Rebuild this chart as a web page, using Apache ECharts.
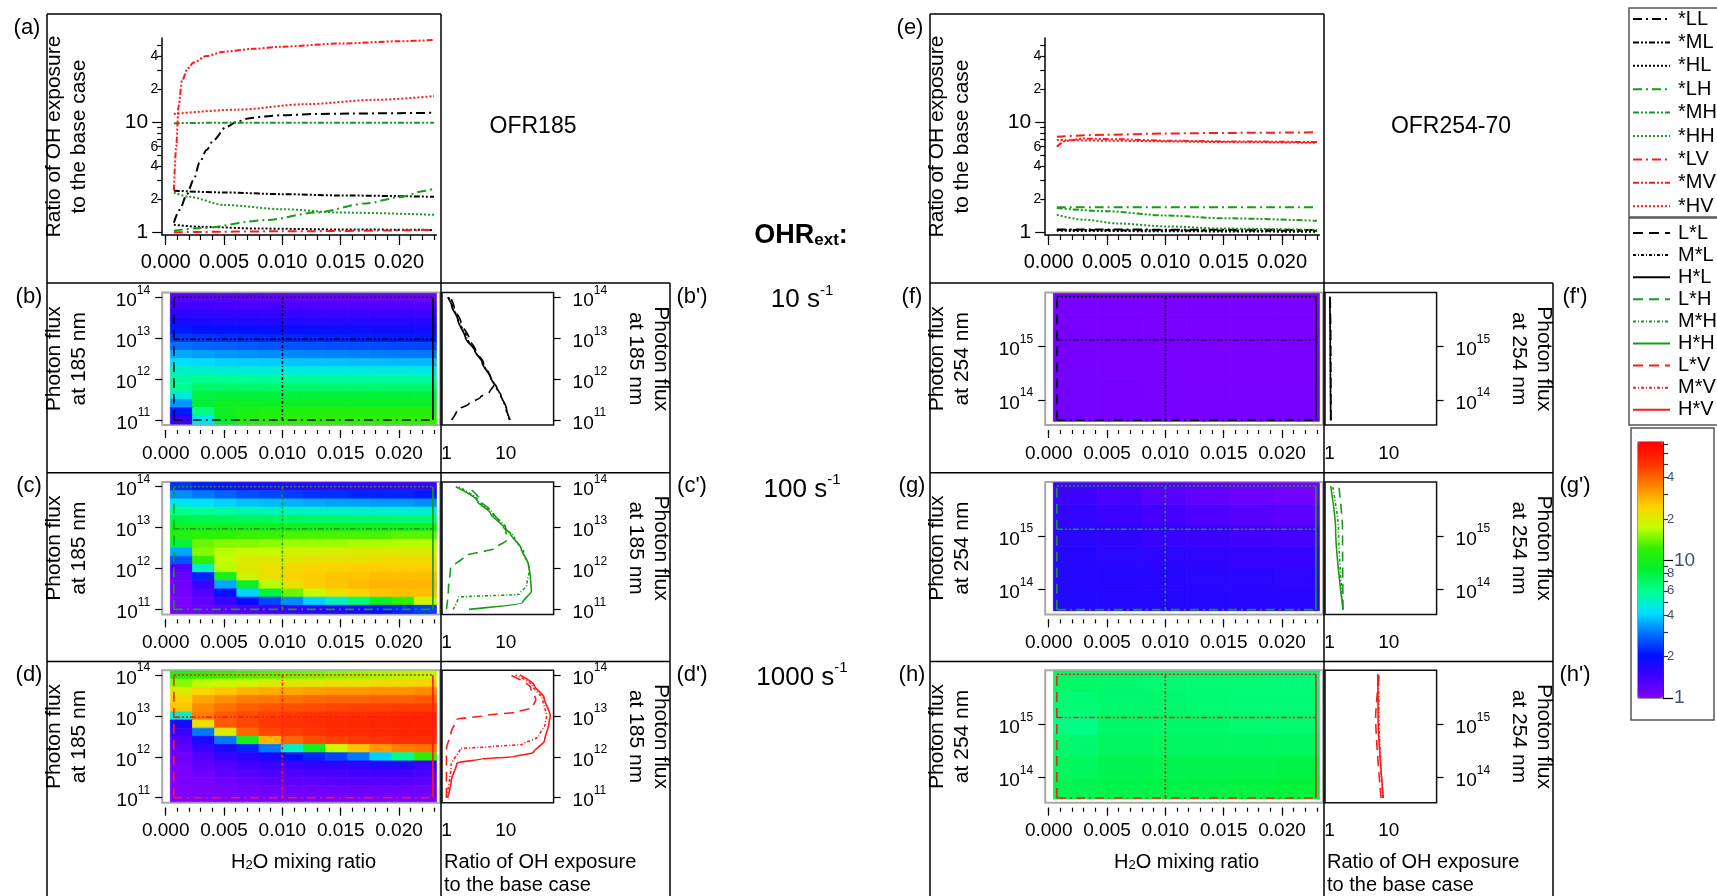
<!DOCTYPE html>
<html>
<head>
<meta charset="utf-8">
<title>Ratio of OH exposure to the base case</title>
<script src="https://cdn.jsdelivr.net/npm/echarts@6/dist/echarts.min.js"></script>
<style>
  html, body { margin: 0; padding: 0; background: #fff; }
  #chart { width: 1717px; height: 896px; }
</style>
</head>
<body>
<div id="chart"></div>
<script>
// ---------------- data ----------------
// slice positions: H2O mixing ratio (L, M, H) and log10 photon flux (L, M, H)
const h2oLevels = [0.0007, 0.0100, 0.0229];
const fluxLevels185 = [11.0, 12.97, 14.0];
const fluxLevels254 = [13.62, 15.13, 15.94];

// heatmap cell edges (H2O mixing ratio, log10 photon flux)
const h2oEdges185 = [0.0004, 0.0023, 0.0042, 0.0061, 0.0080, 0.0099, 0.0118, 0.0137, 0.0156, 0.0175, 0.0194, 0.0213, 0.0232];
const fluxEdges185 = [10.9, 11.1, 11.3, 11.5, 11.7, 11.9, 12.1, 12.3, 12.5, 12.7, 12.9, 13.1, 13.3, 13.5, 13.7, 13.9, 14.1];
const h2oEdges254 = [0.0004, 0.0042, 0.0080, 0.0118, 0.0156, 0.0194, 0.0232];
const fluxEdges254 = [13.6, 14.0, 14.4, 14.8, 15.2, 15.6, 16.0];

// ratio of OH exposure, rows from highest flux (top) to lowest, columns low -> high H2O
const ratio185_10 = [
  [1.25, 1.22, 1.2, 1.18, 1.17, 1.16, 1.15, 1.14, 1.13, 1.12, 1.11, 1.1],
  [1.42, 1.4, 1.38, 1.36, 1.35, 1.34, 1.33, 1.32, 1.31, 1.3, 1.3, 1.29],
  [1.6, 1.58, 1.55, 1.53, 1.52, 1.51, 1.5, 1.49, 1.48, 1.47, 1.47, 1.46],
  [1.82, 1.78, 1.75, 1.73, 1.71, 1.7, 1.69, 1.68, 1.67, 1.66, 1.66, 1.65],
  [2.1, 2.05, 2.0, 1.98, 1.95, 1.93, 1.92, 1.9, 1.9, 1.88, 1.88, 1.87],
  [2.4, 2.35, 2.3, 2.27, 2.24, 2.22, 2.2, 2.18, 2.16, 2.14, 2.12, 2.1],
  [2.9, 2.8, 2.75, 2.7, 2.65, 2.62, 2.6, 2.57, 2.55, 2.53, 2.51, 2.5],
  [3.5, 3.4, 3.3, 3.25, 3.2, 3.15, 3.12, 3.1, 3.07, 3.04, 3.02, 3.0],
  [4.2, 4.1, 4.0, 3.95, 3.9, 3.85, 3.82, 3.8, 3.77, 3.74, 3.72, 3.7],
  [5.0, 4.9, 4.8, 4.75, 4.7, 4.65, 4.62, 4.6, 4.57, 4.54, 4.52, 4.5],
  [5.6, 5.9, 5.8, 5.75, 5.7, 5.68, 5.65, 5.63, 5.62, 5.61, 5.6, 5.6],
  [5.9, 7.0, 6.9, 6.85, 6.8, 6.8, 6.8, 6.8, 6.8, 6.8, 6.8, 6.8],
  [4.6, 8.0, 8.2, 8.15, 8.1, 8.1, 8.1, 8.1, 8.1, 8.1, 8.1, 8.1],
  [3.3, 8.3, 9.4, 9.4, 9.4, 9.4, 9.4, 9.4, 9.4, 9.4, 9.4, 9.4],
  [2.1, 6.2, 9.6, 10.4, 10.6, 10.7, 10.8, 10.9, 11.0, 11.0, 11.1, 11.1],
  [1.5, 4.4, 8.6, 10.6, 11.3, 11.6, 11.8, 11.9, 12.0, 12.1, 12.2, 12.2]
];
const ratio185_100 = [
  [2.3, 2.1, 1.9, 1.8, 1.7, 1.6, 1.6, 1.55, 1.5, 1.5, 1.45, 1.45],
  [3.2, 3.0, 2.8, 2.6, 2.5, 2.4, 2.3, 2.3, 2.2, 2.2, 2.2, 2.1],
  [4.4, 4.2, 4.0, 3.8, 3.7, 3.6, 3.5, 3.4, 3.4, 3.3, 3.3, 3.2],
  [6.0, 5.8, 5.6, 5.4, 5.2, 5.1, 5.0, 5.0, 4.9, 4.9, 4.8, 4.8],
  [7.8, 7.6, 7.4, 7.2, 7.1, 7.0, 6.9, 6.9, 6.8, 6.8, 6.7, 6.7],
  [9.9, 9.9, 9.9, 9.9, 9.9, 9.9, 9.9, 9.9, 9.9, 9.9, 9.9, 9.9],
  [11, 12, 12, 12.5, 12.5, 13, 13, 13, 13, 13, 13.5, 13.5],
  [8, 14, 15, 15, 15.5, 16, 16, 16, 16.5, 16.5, 17, 17],
  [3.5, 15, 17, 18, 18, 19, 19, 19.5, 20, 20, 20, 20],
  [2.6, 12, 18, 20, 21, 21, 22, 22, 22, 23, 23, 23],
  [1.3, 5, 17, 21, 22, 23, 24, 24, 25, 25, 25, 25],
  [1.15, 2.2, 10, 19, 22, 24, 25, 26, 26, 27, 27, 27],
  [1.1, 1.5, 3.5, 9, 17, 22, 25, 26, 27, 28, 28, 28],
  [1.05, 1.3, 2, 4, 8, 14, 18, 22, 24, 26, 27, 27],
  [1.03, 1.2, 1.5, 2, 2.5, 3.2, 4, 5, 6.5, 9, 12, 19],
  [1.02, 1.1, 1.2, 1.3, 1.4, 1.5, 1.6, 1.7, 1.8, 2.0, 2.2, 2.4]
];
const ratio185_1000 = [
  [11, 12, 12.5, 13, 13.5, 14, 14.5, 15, 15.5, 16, 16.5, 17],
  [15, 17, 18, 19, 20, 21, 21, 22, 22, 23, 23, 24],
  [20, 24, 26, 28, 29, 30, 31, 32, 32, 33, 33, 34],
  [24, 30, 33, 36, 37, 38, 39, 40, 40, 41, 41, 42],
  [26, 34, 38, 41, 43, 44, 45, 46, 47, 47, 48, 48],
  [5, 36, 42, 45, 47, 49, 50, 51, 52, 53, 54, 55],
  [1.8, 22, 42, 46, 49, 50, 52, 53, 54, 55, 56, 56],
  [1.5, 3, 20, 40, 46, 48, 50, 52, 53, 54, 55, 55],
  [1.3, 1.8, 3, 10, 28, 40, 45, 47, 49, 50, 51, 52],
  [1.2, 1.5, 1.8, 2.2, 3, 5, 10, 18, 26, 32, 36, 38],
  [1.1, 1.3, 1.5, 1.6, 1.8, 2, 2.2, 2.5, 3, 4, 6, 12],
  [1.05, 1.2, 1.3, 1.4, 1.5, 1.5, 1.6, 1.6, 1.6, 1.7, 1.7, 1.5],
  [1.03, 1.1, 1.2, 1.25, 1.3, 1.3, 1.35, 1.35, 1.4, 1.4, 1.4, 1.35],
  [1.02, 1.05, 1.1, 1.15, 1.2, 1.2, 1.2, 1.25, 1.25, 1.25, 1.25, 1.2],
  [1.0, 1.03, 1.05, 1.08, 1.1, 1.1, 1.1, 1.12, 1.12, 1.12, 1.12, 1.1],
  [1.0, 1.0, 1.02, 1.03, 1.04, 1.05, 1.05, 1.05, 1.05, 1.05, 1.05, 1.05]
];
const ratio254_10 = [
  [1.05, 1.03, 1.02, 1.02, 1.01, 1.01],
  [1.05, 1.04, 1.03, 1.02, 1.02, 1.02],
  [1.06, 1.05, 1.04, 1.03, 1.03, 1.03],
  [1.06, 1.05, 1.05, 1.04, 1.04, 1.04],
  [1.07, 1.06, 1.05, 1.05, 1.05, 1.05],
  [1.07, 1.06, 1.06, 1.06, 1.06, 1.06]
];
const ratio254_100 = [
  [1.45, 1.35, 1.25, 1.18, 1.12, 1.07],
  [1.55, 1.48, 1.4, 1.33, 1.27, 1.22],
  [1.62, 1.57, 1.52, 1.47, 1.42, 1.38],
  [1.66, 1.63, 1.6, 1.57, 1.54, 1.51],
  [1.68, 1.66, 1.64, 1.62, 1.6, 1.58],
  [1.69, 1.68, 1.67, 1.66, 1.65, 1.64]
];
const ratio254_1000 = [
  [6.9, 6.8, 6.7, 6.6, 6.6, 6.5],
  [6.6, 6.8, 6.8, 6.7, 6.6, 6.6],
  [6.2, 6.9, 6.9, 6.8, 6.7, 6.7],
  [6.8, 7.2, 7.2, 7.2, 7.2, 7.2],
  [7.2, 7.5, 7.6, 7.7, 7.7, 7.8],
  [7.5, 7.7, 7.8, 7.9, 8.0, 8.1]
];

// top panels: [H2O mixing ratio, ratio] at fixed flux (L/M/H) and OHRext (L/H/V)
const top185 = {
  '*LL': [[0.0007, 1.22], [0.0012, 1.6], [0.0018, 2.2], [0.0024, 3.0], [0.0029, 4.3], [0.0035, 5.6], [0.0041, 6.9], [0.0052, 9.1], [0.0062, 10.2], [0.0072, 10.9], [0.0085, 11.3], [0.010, 11.6], [0.013, 11.9], [0.016, 12.0], [0.020, 12.1], [0.023, 12.2]],
  '*ML': [[0.0007, 2.39], [0.005, 2.3], [0.010, 2.22], [0.015, 2.16], [0.023, 2.1]],
  '*HL': [[0.0007, 1.17], [0.003, 1.12], [0.008, 1.08], [0.015, 1.06], [0.023, 1.05]],
  '*LH': [[0.0007, 1.03], [0.0029, 1.09], [0.0086, 1.29], [0.0129, 1.51], [0.0172, 1.83], [0.0200, 2.08], [0.0223, 2.39], [0.023, 2.5]],
  '*MH': [[0.0007, 9.8], [0.005, 9.9], [0.023, 9.9]],
  '*HH': [[0.0007, 2.29], [0.002, 2.1], [0.005, 1.77], [0.010, 1.62], [0.015, 1.51], [0.023, 1.44]],
  '*LV': [[0.0007, 1.0], [0.010, 1.02], [0.023, 1.05]],
  '*MV': [[0.0007, 2.4], [0.0009, 6], [0.0011, 14], [0.0014, 24], [0.0019, 31], [0.0024, 35], [0.0035, 40], [0.005, 43.8], [0.0075, 46.5], [0.010, 48.7], [0.015, 52], [0.020, 54.5], [0.023, 56]],
  '*HV': [[0.0007, 11.9], [0.006, 13], [0.012, 14.6], [0.018, 16], [0.023, 17.3]]
};
const top254 = {
  '*LL': [[0.0007, 1.06], [0.023, 1.05]],
  '*ML': [[0.0007, 1.05], [0.023, 1.03]],
  '*HL': [[0.0007, 1.03], [0.023, 1.01]],
  '*LH': [[0.0007, 1.69], [0.023, 1.69]],
  '*MH': [[0.0007, 1.66], [0.005, 1.55], [0.010, 1.42], [0.015, 1.34], [0.023, 1.27]],
  '*HH': [[0.0007, 1.44], [0.003, 1.3], [0.006, 1.2], [0.010, 1.13], [0.015, 1.08], [0.023, 1.05]],
  '*LV': [[0.0007, 7.4], [0.005, 7.7], [0.010, 7.9], [0.015, 8.0], [0.023, 8.1]],
  '*MV': [[0.0007, 6.0], [0.0015, 6.8], [0.003, 7.1], [0.006, 7.0], [0.010, 6.8], [0.015, 6.7], [0.023, 6.6]],
  '*HV': [[0.0007, 6.9], [0.005, 6.8], [0.010, 6.7], [0.015, 6.6], [0.023, 6.5]]
};

// side panels: [ratio, log10 photon flux] at fixed H2O (L/M/H)
const side185_10 = {
  'L*L': [[1.22, 11.0], [1.5, 11.24], [2.4, 11.4], [3.7, 11.55], [5.4, 11.7], [6.3, 11.85], [5.5, 12.05], [4.2, 12.4], [3.1, 12.7], [2.4, 13.0], [1.75, 13.4], [1.35, 13.75], [1.17, 14.0]],
  'M*L': [[11.6, 11.0], [10.0, 11.3], [8.2, 11.6], [6.9, 11.8], [5.7, 12.0], [4.1, 12.4], [3.0, 12.7], [2.22, 13.0], [1.6, 13.45], [1.25, 13.8], [1.08, 14.0]],
  'H*L': [[11.8, 11.0], [10.2, 11.3], [8.3, 11.6], [7.0, 11.8], [5.7, 12.0], [4.0, 12.4], [3.0, 12.7], [2.1, 13.0], [1.55, 13.45], [1.22, 13.8], [1.05, 14.0]]
};
const side185_100 = {
  'L*H': [[1.0, 11.0], [1.08, 11.5], [1.17, 12.0], [2.0, 12.3], [6.7, 12.5], [10.4, 12.7], [9.9, 13.0], [6.2, 13.35], [3.8, 13.65], [2.3, 14.0]],
  'M*H': [[1.3, 11.0], [1.6, 11.3], [17, 11.37], [22.6, 11.6], [25, 12.0], [20, 12.4], [14, 12.75], [9.9, 13.0], [6.0, 13.35], [3.5, 13.65], [1.6, 14.0]],
  'H*H': [[2.4, 11.0], [19, 11.16], [27, 11.45], [26, 11.8], [24, 12.1], [18, 12.5], [12, 12.85], [9.2, 13.0], [5.5, 13.35], [3.3, 13.65], [1.44, 14.0]]
};
const side185_1000 = {
  'L*V': [[1.0, 11.0], [1.0, 12.2], [1.2, 12.6], [1.5, 12.92], [4, 13.0], [16, 13.1], [28, 13.2], [32, 13.4], [26, 13.7], [11.9, 14.0]],
  'M*V': [[1.0, 11.0], [1.2, 11.8], [1.7, 12.2], [5.6, 12.25], [19, 12.3], [36, 12.5], [46, 12.8], [48.7, 13.0], [42, 13.4], [28, 13.75], [14.6, 14.0]],
  'H*V': [[1.05, 11.0], [1.2, 11.4], [1.5, 11.85], [4, 11.95], [13.4, 12.0], [29, 12.1], [45, 12.4], [53, 12.8], [56, 13.0], [44, 13.45], [30, 13.75], [17.3, 14.0]]
};
const side254_10 = {
  'L*L': [[1.06, 13.62], [1.05, 15.13], [1.03, 15.94]],
  'M*L': [[1.05, 13.62], [1.04, 15.13], [1.02, 15.94]],
  'H*L': [[1.05, 13.62], [1.03, 15.13], [1.01, 15.94]]
};
const side254_100 = {
  'L*H': [[1.69, 13.62], [1.66, 15.13], [1.44, 15.94]],
  'M*H': [[1.69, 13.62], [1.42, 15.13], [1.13, 15.94]],
  'H*H': [[1.69, 13.62], [1.27, 15.13], [1.05, 15.94]]
};
const side254_1000 = {
  'L*V': [[7.4, 13.62], [6.0, 15.13], [6.9, 15.94]],
  'M*V': [[7.9, 13.62], [6.8, 15.13], [6.7, 15.94]],
  'H*V': [[8.1, 13.62], [6.6, 15.13], [6.5, 15.94]]
};

// ---------------- styles ----------------
const FONT = "'Liberation Sans', Arial, sans-serif";
const ohrColor = { L: '#000000', H: '#1a9a1a', V: '#ff1a1a' };
const fluxDash = { L: [9, 4, 2, 4], M: [6, 2, 2, 2, 2, 2], H: [2, 2] };
const h2oDash = { L: [10, 6], M: [3, 2, 1, 2], H: 'solid' };
const cmap = ['#8000ff', '#4000ff', '#0010ff', '#0070ff', '#00e0ff', '#00ff90', '#00f030',
  '#30f000', '#c0ff00', '#ffd000', '#ff8000', '#ff3000', '#ff0000'];
const LV = ['L', 'M', 'H'];
const OHR = ['L', 'H', 'V'];

const minorX = [];
for (let i = 0; i <= 23; i++) minorX.push(+(i * 0.001).toFixed(3));
const majorX = [0, 0.005, 0.010, 0.015, 0.020];
const lg = v => Math.log10(v);
const minorLog = [2, 3, 4, 5, 6, 7, 8, 9, 20, 30, 40, 50, 60, 70].map(lg);

const grids = [], xAxes = [], yAxes = [], series = [], graphics = [], heatIdx = [];

function tickAxis(gridIndex, min, max, values, len, position, offset) {
  return {
    type: 'value', gridIndex, min, max, position, offset: offset || 0,
    axisLine: { show: false, onZero: false }, axisLabel: { show: false }, splitLine: { show: false },
    axisTick: { show: true, customValues: values, length: len, lineStyle: { color: '#000', width: 1.2 } }
  };
}

function cells(xEdges, yEdges, rows) {
  const out = [];
  const n = rows.length;
  rows.forEach((row, i) => {
    const y0 = yEdges[n - 1 - i], y1 = yEdges[n - i];
    row.forEach((v, j) => out.push([xEdges[j], xEdges[j + 1], y0, y1, lg(v)]));
  });
  return out;
}

function renderCell(params, api) {
  const a = api.coord([api.value(0), api.value(3)]);
  const b = api.coord([api.value(1), api.value(2)]);
  const c = api.visual('color');
  return {
    type: 'rect',
    shape: { x: a[0], y: a[1], width: b[0] - a[0], height: b[1] - a[1] },
    style: { fill: c, stroke: c, lineWidth: 0.8 }
  };
}

function supLabel(v) { return '{b|10}{s|' + Math.round(v) + '}'; }
const supRich = {
  b: { fontSize: 19, lineHeight: 26, verticalAlign: 'bottom', fontFamily: FONT, color: '#000' },
  s: { fontSize: 12, lineHeight: 14, verticalAlign: 'top', fontFamily: FONT, color: '#000' }
};

function buildTop(dx, curves) {
  const gi = grids.push({ left: 162.2 + dx, top: 38, width: 274.2, height: 197 }) - 1;
  const xMin = -0.0003, xMax = 0.0232, yMin = -0.025, yMax = 1.766;
  const xi = xAxes.push({
    type: 'value', gridIndex: gi, min: xMin, max: xMax, position: 'bottom',
    axisLine: { show: true, onZero: false, lineStyle: { color: '#000', width: 1.5 } },
    axisTick: { show: true, customValues: minorX, length: 5, lineStyle: { color: '#000', width: 1.2 } },
    axisLabel: { customValues: majorX, formatter: v => v.toFixed(3), fontSize: 20, color: '#000', fontFamily: FONT, margin: 17 },
    splitLine: { show: false }
  }) - 1;
  xAxes.push(tickAxis(gi, xMin, xMax, majorX, 10, 'bottom'));
  const yi = yAxes.push({
    type: 'value', gridIndex: gi, min: yMin, max: yMax, position: 'left',
    axisLine: { show: true, onZero: false, lineStyle: { color: '#000', width: 1.5 } },
    axisTick: { show: true, customValues: minorLog, length: 5, lineStyle: { color: '#000', width: 1.2 } },
    axisLabel: {
      customValues: [1, 2, 4, 6, 10, 20, 40].map(lg), margin: 4,
      formatter: v => {
        const n = Math.round(Math.pow(10, v));
        return (n === 1 || n === 10) ? '{big|' + n + '}' : '{small|' + (n >= 10 ? n / 10 : n) + '}';
      },
      rich: {
        big: { fontSize: 21, fontFamily: FONT, color: '#000', padding: [0, 10, 0, 0] },
        small: { fontSize: 14, fontFamily: FONT, color: '#000' }
      }
    },
    name: 'Ratio of OH exposure\nto the base case', nameLocation: 'middle', nameRotate: 90, nameGap: 70,
    nameTextStyle: { fontSize: 21, lineHeight: 25, fontFamily: FONT, color: '#000' },
    splitLine: { show: false }
  }) - 1;
  yAxes.push(tickAxis(gi, yMin, yMax, [0, 1], 10, 'left'));
  OHR.forEach(o => LV.forEach(f => {
    const name = '*' + f + o;
    series.push({
      type: 'line', name, xAxisIndex: xi, yAxisIndex: yi, symbol: 'none', silent: true,
      smooth: 0.3, smoothMonotone: 'x', z: o === 'V' ? 5 : 4,
      data: curves[name].map(p => [p[0], lg(p[1])]),
      lineStyle: { color: ohrColor[o], width: 2, type: fluxDash[f] }
    });
  }));
}

function buildRow(dx, dy, blk, matrix, o, side) {
  const top = 292.5 + dy, h = 132.5;
  const [yMin, yMax] = blk.fluxRange;
  // heatmap
  const gi = grids.push({ left: 162.2 + dx, top, width: 277.8, height: h, show: true, borderColor: '#a8a8a8', borderWidth: 2 }) - 1;
  const xMin = -0.0003, xMax = 0.02351;
  const xi = xAxes.push({
    type: 'value', gridIndex: gi, min: xMin, max: xMax, position: 'bottom', offset: 5,
    axisLine: { show: false, onZero: false },
    axisTick: { show: true, customValues: minorX, length: 4, lineStyle: { color: '#000', width: 1.2 } },
    axisLabel: { customValues: majorX, formatter: v => v.toFixed(3), fontSize: 19, color: '#000', fontFamily: FONT, margin: 14 },
    splitLine: { show: false }
  }) - 1;
  xAxes.push(tickAxis(gi, xMin, xMax, majorX, 8, 'bottom', 5));
  const yi = yAxes.push({
    type: 'value', gridIndex: gi, min: yMin, max: yMax, position: 'left',
    axisLine: { show: false, onZero: false },
    axisTick: { show: true, customValues: blk.fluxTicks, length: 7, lineStyle: { color: '#000', width: 1.2 } },
    axisLabel: { customValues: blk.fluxTicks, formatter: supLabel, rich: supRich, margin: 12 },
    name: 'Photon flux\nat ' + blk.nm + ' nm', nameLocation: 'middle', nameRotate: 90, nameGap: 70,
    nameTextStyle: { fontSize: 21, lineHeight: 25, fontFamily: FONT, color: '#000' },
    splitLine: { show: false }
  }) - 1;
  heatIdx.push(series.length);
  series.push({
    type: 'custom', xAxisIndex: xi, yAxisIndex: yi, silent: true, clip: true,
    encode: { x: [0, 1], y: [2, 3] },
    data: cells(blk.xEdges, blk.yEdges, matrix),
    renderItem: renderCell
  });
  const fl = blk.fluxLevels;
  h2oLevels.forEach((x, k) => series.push({
    type: 'line', xAxisIndex: xi, yAxisIndex: yi, symbol: 'none', silent: true, z: 6,
    data: [[x, fl[0]], [x, fl[2]]],
    lineStyle: { color: ohrColor[o], width: 1.6, type: h2oDash[LV[k]] }
  }));
  fl.forEach((y, k) => series.push({
    type: 'line', xAxisIndex: xi, yAxisIndex: yi, symbol: 'none', silent: true, z: 6,
    data: [[h2oLevels[0], y], [h2oLevels[2], y]],
    lineStyle: { color: ohrColor[o], width: 1.6, type: fluxDash[LV[k]] }
  }));

  // side panel
  const si = grids.push({ left: 442 + dx, top, width: 111.6, height: h, show: true, borderColor: '#111', borderWidth: 1.5 }) - 1;
  const sxi = xAxes.push({
    type: 'value', gridIndex: si, min: -0.075, max: 1.805, position: 'bottom',
    axisLine: { show: false, onZero: false }, axisTick: { show: false },
    axisLabel: { customValues: [0, 1], formatter: v => String(Math.round(Math.pow(10, v))), fontSize: 19, color: '#000', fontFamily: FONT, margin: 19 },
    splitLine: { show: false }
  }) - 1;
  const syi = yAxes.push({
    type: 'value', gridIndex: si, min: yMin, max: yMax, position: 'right',
    axisLine: { show: false, onZero: false },
    axisTick: { show: true, customValues: blk.fluxTicks, length: 7, lineStyle: { color: '#000', width: 1.2 } },
    axisLabel: { customValues: blk.fluxTicks, formatter: supLabel, rich: supRich, margin: 19 },
    name: 'Photon flux\nat ' + blk.nm + ' nm', nameLocation: 'middle', nameRotate: -90, nameGap: 70,
    nameTextStyle: { fontSize: 21, lineHeight: 25, fontFamily: FONT, color: '#000' },
    splitLine: { show: false }
  }) - 1;
  LV.forEach(w => {
    const name = w + '*' + o;
    series.push({
      type: 'line', name, xAxisIndex: sxi, yAxisIndex: syi, symbol: 'none', silent: true,
      smooth: 0.25, smoothMonotone: 'y',
      data: side[name].map(p => [lg(p[0]), p[1]]),
      lineStyle: { color: ohrColor[o], width: 1.6, type: h2oDash[w] }
    });
  });
}

const blocks = [
  {
    dx: 0, nm: '185', fluxRange: [10.878, 14.117], fluxTicks: [11, 12, 13, 14], fluxLevels: fluxLevels185,
    xEdges: h2oEdges185, yEdges: fluxEdges185, top: top185,
    rows: [[ratio185_10, 'L', side185_10], [ratio185_100, 'H', side185_100], [ratio185_1000, 'V', side185_1000]],
    title: 'OFR185', titleX: 533, letters: ['a', 'b', 'c', 'd']
  },
  {
    dx: 883, nm: '254', fluxRange: [13.531, 16.017], fluxTicks: [14, 15], fluxLevels: fluxLevels254,
    xEdges: h2oEdges254, yEdges: fluxEdges254, top: top254,
    rows: [[ratio254_10, 'L', side254_10], [ratio254_100, 'H', side254_100], [ratio254_1000, 'V', side254_1000]],
    title: 'OFR254-70', titleX: 1451, letters: ['e', 'f', 'g', 'h']
  }
];
const rowDy = [0, 189.4, 377.7];

function gText(x, y, text, size, extra) {
  graphics.push({
    type: 'text', x, y, silent: true, z: 10,
    style: Object.assign({ text, fontSize: size, fontFamily: FONT, fill: '#000', align: 'center', verticalAlign: 'middle' }, extra || {})
  });
}
function gLine(x1, y1, x2, y2, stroke, width, dash) {
  graphics.push({
    type: 'line', silent: true, z: 10, shape: { x1, y1, x2, y2 },
    style: { stroke: stroke || '#000', lineWidth: width || 1.5, lineDash: dash && dash !== 'solid' ? dash : null }
  });
}
function gRect(x, y, w, h, stroke) {
  graphics.push({ type: 'rect', silent: true, z: 9, shape: { x, y, width: w, height: h }, style: { fill: 'none', stroke, lineWidth: 1.5 } });
}

blocks.forEach(blk => {
  const dx = blk.dx;
  buildTop(dx, blk.top);
  blk.rows.forEach((r, i) => buildRow(dx, rowDy[i], blk, r[0], r[1], r[2]));

  // table frame
  gLine(47 + dx, 14, 47 + dx, 896);
  gLine(47 + dx, 14, 441 + dx, 14);
  gLine(441 + dx, 14, 441 + dx, 896);
  gLine(670 + dx, 283, 670 + dx, 896);
  [283, 472.7, 661.4].forEach(y => gLine(47 + dx, y, 670 + dx, y));

  gText(27 + dx, 28, '(' + blk.letters[0] + ')', 22);
  blk.letters.slice(1).forEach((l, i) => {
    gText(29 + dx, 297 + rowDy[i], '(' + l + ')', 22);
    gText(692 + dx, 297 + rowDy[i], '(' + l + "')", 22);
  });
  gText(blk.titleX, 127, blk.title, 23);
  gText(303.6 + dx, 860, '{n|H}{sub|2}{n|O mixing ratio}', 20, {
    rich: { n: { fontSize: 20, fontFamily: FONT, lineHeight: 24, verticalAlign: 'bottom' }, sub: { fontSize: 13, fontFamily: FONT, lineHeight: 13, verticalAlign: 'bottom' } }
  });
  gText(444 + dx, 862, 'Ratio of OH exposure', 20, { align: 'left' });
  gText(444 + dx, 885, 'to the base case', 20, { align: 'left' });
});

// middle column: OHRext
gText(801, 233, '{b|OHR}{sub|ext}{b|:}', 26, {
  rich: {
    b: { fontSize: 27, fontWeight: 'bold', fontFamily: FONT, lineHeight: 32, verticalAlign: 'bottom' },
    sub: { fontSize: 17, fontWeight: 'bold', fontFamily: FONT, lineHeight: 17, verticalAlign: 'bottom' }
  }
});
const ohrLabels = ['10', '100', '1000'];
ohrLabels.forEach((t, i) => gText(802, 298 + rowDy[i], '{n|' + t + ' s}{sup|-1}', 26, {
  rich: {
    n: { fontSize: 26, fontFamily: FONT, lineHeight: 30, verticalAlign: 'bottom' },
    sup: { fontSize: 15, fontFamily: FONT, lineHeight: 15, verticalAlign: 'top' }
  }
}));

// legend boxes: line style keys for each entry
gRect(1629, 8, 100, 209, '#555');
gRect(1629, 218, 100, 207, '#555');
OHR.forEach((o, i) => LV.forEach((l, j) => {
  const k = i * 3 + j;
  const y1 = 19 + 23.4 * k;
  gLine(1633, y1, 1670, y1, ohrColor[o], 2, fluxDash[l]);
  gText(1678, y1, '*' + l + o, 20, { align: 'left' });
  const y2 = 233 + 22.1 * k;
  gLine(1633, y2, 1670, y2, ohrColor[o], 2, h2oDash[l]);
  gText(1678, y2, l + '*' + o, 20, { align: 'left' });
}));

// colour bar box
gRect(1631, 428, 83, 292, '#555');

// colour bar axis
const cbg = grids.push({ left: 1638, top: 442, width: 25, height: 256, show: true, borderColor: '#333', borderWidth: 1 }) - 1;
xAxes.push({ type: 'value', gridIndex: cbg, min: 0, max: 1, show: false });
yAxes.push({
  type: 'value', gridIndex: cbg, min: 0, max: 1.86, position: 'right',
  axisLine: { show: true, onZero: false, lineStyle: { color: '#333', width: 1 } },
  axisTick: { show: true, customValues: minorLog, length: 5, lineStyle: { color: '#333', width: 1.2 } },
  axisLabel: {
    customValues: [1, 2, 4, 6, 8, 10, 20, 40].map(lg), margin: 4,
    formatter: v => {
      const n = Math.round(Math.pow(10, v));
      return (n === 1 || n === 10) ? '{big|' + n + '}' : '{small|' + (n >= 10 ? n / 10 : n) + '}';
    },
    rich: {
      big: { fontSize: 19, fontFamily: FONT, color: '#3d4f6e', padding: [0, 0, 0, 7] },
      small: { fontSize: 13, fontFamily: FONT, color: '#3d4f6e' }
    }
  },
  splitLine: { show: false }
});
yAxes.push(tickAxis(cbg, 0, 1.86, [0, 1], 10, 'right'));

const chart = echarts.init(document.getElementById('chart'), null, { renderer: 'canvas' });
chart.setOption({
  animation: false,
  backgroundColor: '#fff',
  grid: grids,
  xAxis: xAxes,
  yAxis: yAxes,
  visualMap: {
    type: 'continuous', min: 0, max: 1.86, dimension: 4, seriesIndex: heatIdx,
    calculable: false, realtime: false, hoverLink: false, orient: 'vertical',
    left: 1638, top: 442, itemWidth: 25, itemHeight: 256, padding: 0,
    inRange: { color: cmap }
  },
  graphic: graphics,
  series
});
</script>
</body>
</html>
